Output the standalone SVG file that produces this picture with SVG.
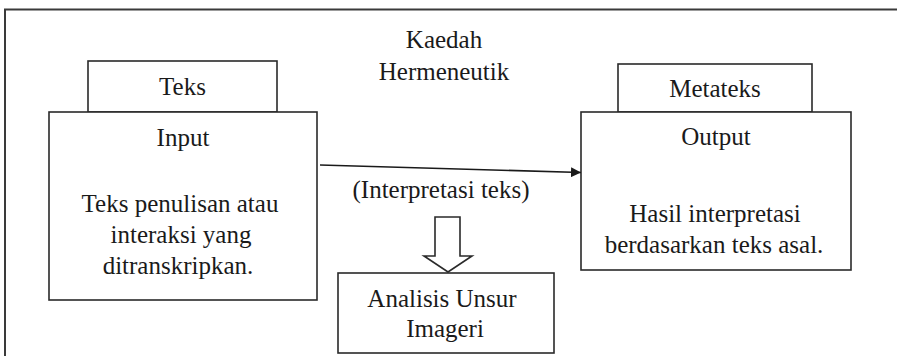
<svg xmlns="http://www.w3.org/2000/svg" width="897" height="356" viewBox="0 0 897 356">
<style>
  .box { fill: #fff; stroke: #2a2a2a; stroke-width: 1.6; }
  .frame { fill: none; stroke: #3a3a3a; stroke-width: 2; }
  .t { font-family: "Liberation Serif", "Times New Roman", serif; font-size: 25px; fill: #1a1a1a; text-anchor: middle; }
  .conn { stroke: #1a1a1a; stroke-width: 1.6; fill: none; }
</style>
<defs>
  <marker id="ah" viewBox="0 0 10 10" refX="10" refY="5" markerWidth="10" markerHeight="10" markerUnits="userSpaceOnUse" orient="auto">
    <path d="M0,0 L10,5 L0,10 Z" fill="#1a1a1a"/>
  </marker>
</defs>
<rect width="897" height="356" fill="#fff"/>
<g id="frame">
  <path class="frame" d="M5,356 L5,9.5 L897,9.5"/>
</g>
<g id="title">
  <text class="t" x="444" y="48">Kaedah</text>
  <text class="t" x="444" y="80">Hermeneutik</text>
</g>
<g id="teks">
  <rect class="box" x="88" y="61" width="189" height="51"/>
  <text class="t" x="182.5" y="95">Teks</text>
</g>
<g id="input">
  <rect class="box" x="49" y="112" width="268" height="188"/>
  <text class="t" x="183" y="146">Input</text>
  <text class="t" x="180" y="212">Teks penulisan atau</text>
  <text class="t" x="181" y="243">interaksi yang</text>
  <text class="t" x="178" y="274">ditranskripkan.</text>
</g>
<g id="metateks">
  <rect class="box" x="618" y="64" width="194" height="48"/>
  <text class="t" x="715" y="97">Metateks</text>
</g>
<g id="output">
  <rect class="box" x="581" y="112" width="270" height="158"/>
  <text class="t" x="716" y="145">Output</text>
  <text class="t" x="715" y="222">Hasil interpretasi</text>
  <text class="t" x="714" y="253">berdasarkan teks asal.</text>
</g>
<g id="analisis">
  <rect class="box" x="338" y="273" width="216" height="80"/>
  <text class="t" x="442" y="307">Analisis Unsur</text>
  <text class="t" x="445" y="337">Imageri</text>
</g>
<g id="connectors">
  <line class="conn" x1="320" y1="165" x2="581" y2="172.5" marker-end="url(#ah)"/>
  <text class="t" x="441" y="198">(Interpretasi teks)</text>
  <polygon class="box" points="435,217 460,217 460,256 472,256 448,272 424,256 435,256"/>
</g>
</svg>
